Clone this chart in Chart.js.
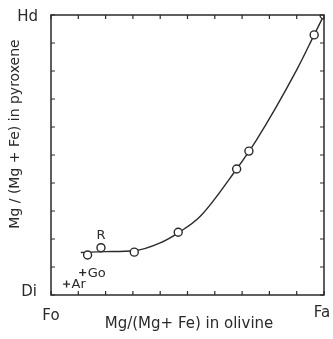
<!DOCTYPE html>
<html>
<head>
<meta charset="utf-8">
<script src="https://cdn.jsdelivr.net/npm/chart.js@4/dist/chart.umd.min.js"></script>
<style>
  html, body { margin: 0; padding: 0; background: #fff; }
  #wrap { width: 333px; height: 339px; position: relative; }
</style>
</head>
<body>
<div id="wrap"><canvas id="c"></canvas></div>
<script>
// Mg/(Mg+Fe) in olivine (x) vs pyroxene (y), axes 0..1
const curveX = [0.109, 0.2, 0.305, 0.4, 0.466, 0.546, 0.68, 0.753, 0.9, 0.964, 1.0];
const curveY = [0.152, 0.155, 0.158, 0.186, 0.222, 0.28, 0.45, 0.554, 0.804, 0.929, 1.0];

const circleX = [0.134, 0.183, 0.305, 0.466, 0.68, 0.725, 0.964, 1.0];
const circleY = [0.143, 0.169, 0.153, 0.224, 0.45, 0.514, 0.929, 1.0];

const crossX = [0.057, 0.116];
const crossY = [0.039, 0.08];
const crossLabels = ['Ar', 'Go'];

// label for one circle (R)
const circleLabelIndex = 1;
const circleLabel = 'R';

const tickValues = [0, 0.1, 0.2, 0.3, 0.4, 0.5, 0.6, 0.7, 0.8, 0.9, 1];
const xEnds = ['Fo', 'Fa'];
const yEnds = ['Di', 'Hd'];
const xTitle = 'Mg/(Mg+ Fe) in olivine';
const yTitle = 'Mg / (Mg + Fe) in pyroxene';

const ink = '#2a2a2a';
const fontFam = "'DejaVu Sans', sans-serif";

const toPts = (xs, ys) => xs.map((x, i) => ({ x: x, y: ys[i] }));

// frame, inward ticks and texts
const framePlugin = {
  id: 'frame',
  afterDraw(chart) {
    const ctx = chart.ctx;
    const a = chart.chartArea;
    const sx = chart.scales.x;
    const sy = chart.scales.y;
    ctx.save();
    ctx.strokeStyle = ink;
    ctx.lineWidth = 1.5;
    ctx.strokeRect(a.left, a.top, a.right - a.left, a.bottom - a.top);

    ctx.lineWidth = 1.2;
    const len = 4;
    ctx.beginPath();
    for (const v of tickValues) {
      const px = sx.getPixelForValue(v);
      const py = sy.getPixelForValue(v);
      ctx.moveTo(px, a.bottom); ctx.lineTo(px, a.bottom - len);
      ctx.moveTo(px, a.top); ctx.lineTo(px, a.top + len);
      ctx.moveTo(a.left, py); ctx.lineTo(a.left + len, py);
      ctx.moveTo(a.right, py); ctx.lineTo(a.right - len, py);
    }
    ctx.stroke();

    ctx.fillStyle = ink;
    ctx.font = '15px ' + fontFam;
    ctx.textBaseline = 'middle';
    ctx.textAlign = 'right';
    ctx.fillText(yEnds[0], a.left - 14, sy.getPixelForValue(0) - 3);
    ctx.fillText(yEnds[1], a.left - 13, sy.getPixelForValue(1) + 2);
    ctx.textAlign = 'center';
    ctx.fillText(xEnds[0], sx.getPixelForValue(0), a.bottom + 21);
    ctx.fillText(xEnds[1], sx.getPixelForValue(1) - 2, a.bottom + 18);

    ctx.font = '15px ' + fontFam;
    ctx.fillText(xTitle, 189, a.bottom + 29);
    ctx.font = '14px ' + fontFam;
    ctx.save();
    ctx.translate(15, 134);
    ctx.rotate(-Math.PI / 2);
    ctx.fillText(yTitle, 0, 0);
    ctx.restore();

    // point labels
    ctx.font = '13px ' + fontFam;
    ctx.textAlign = 'left';
    crossLabels.forEach((t, i) => {
      ctx.fillText(t, sx.getPixelForValue(crossX[i]) + 5, sy.getPixelForValue(crossY[i]) + 1);
    });
    ctx.textAlign = 'center';
    ctx.fillText(circleLabel, sx.getPixelForValue(circleX[circleLabelIndex]),
      sy.getPixelForValue(circleY[circleLabelIndex]) - 12);
    ctx.restore();
  }
};

new Chart(document.getElementById('c'), {
  type: 'scatter',
  data: {
    datasets: [
      {
        type: 'line',
        data: toPts(curveX, curveY),
        borderColor: ink,
        borderWidth: 1.4,
        pointRadius: 0,
        fill: false,
        cubicInterpolationMode: 'monotone',
        order: 2,
      },
      {
        data: toPts(circleX, circleY),
        pointStyle: 'circle',
        pointRadius: 4,
        pointBackgroundColor: '#fff',
        pointBorderColor: ink,
        pointBorderWidth: 1.4,
        order: 1,
      },
      {
        data: toPts(crossX, crossY),
        pointStyle: 'cross',
        pointRadius: 3.5,
        pointBorderColor: ink,
        pointBorderWidth: 1.4,
        order: 1,
      },
    ],
  },
  options: {
    responsive: true,
    maintainAspectRatio: false,
    animation: false,
    layout: { padding: { left: 51, right: 9, top: 15, bottom: 44 } },
    plugins: { legend: { display: false }, tooltip: { enabled: false } },
    scales: {
      x: { type: 'linear', min: 0, max: 1, display: false },
      y: { type: 'linear', min: 0, max: 1, display: false },
    },
  },
  plugins: [framePlugin],
});
</script>
</body>
</html>
